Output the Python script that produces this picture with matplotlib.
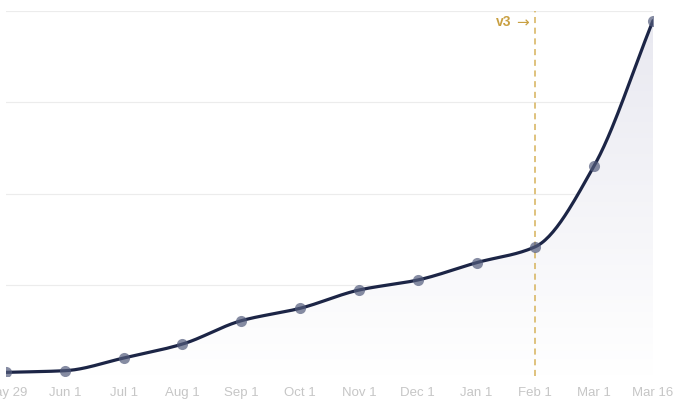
import numpy as np
import matplotlib.pyplot as plt
from matplotlib.colors import LinearSegmentedColormap
from matplotlib.patches import Polygon

# Data (no y labels shown, units arbitrary)
dates = ["May 29", "Jun 1", "Jul 1", "Aug 1", "Sep 1", "Oct 1", "Nov 1",
         "Dec 1", "Jan 1", "Feb 1", "Mar 1", "Mar 16"]
values = [40, 58, 197, 350, 606, 742, 942, 1052, 1242, 1417, 2305, 3894]
release_label = "v3"
release_idx = 9

plt.rcParams['font.family'] = ['Liberation Sans', 'DejaVu Sans']


def monotone_curve(x, y, n=30):
    # Fritsch-Carlson monotone cubic, just for drawing the smooth line
    x = np.asarray(x, float)
    y = np.asarray(y, float)
    h = np.diff(x)
    d = np.diff(y) / h
    m = np.zeros_like(y)
    m[0], m[-1] = d[0], d[-1]
    for i in range(1, len(y) - 1):
        if d[i - 1] * d[i] <= 0:
            m[i] = 0
        else:
            w1 = 2 * h[i] + h[i - 1]
            w2 = h[i] + 2 * h[i - 1]
            m[i] = (w1 + w2) / (w1 / d[i - 1] + w2 / d[i])
    xs, ys = [], []
    for i in range(len(x) - 1):
        t = np.linspace(0, 1, n, endpoint=False)
        h00 = 2 * t**3 - 3 * t**2 + 1
        h10 = t**3 - 2 * t**2 + t
        h01 = -2 * t**3 + 3 * t**2
        h11 = t**3 - t**2
        xs.append(x[i] + t * h[i])
        ys.append(h00 * y[i] + h10 * h[i] * m[i] + h01 * y[i + 1] + h11 * h[i] * m[i + 1])
    xs.append([x[-1]])
    ys.append([y[-1]])
    return np.concatenate(xs), np.concatenate(ys)


fig = plt.figure(figsize=(6.8, 4.09), dpi=100)
W, H = 680, 409
ax = fig.add_axes([6 / W, (H - 376) / H, (653 - 6) / W, (376 - 11) / H])

xi = np.arange(len(values))
cx, cy = monotone_curve(xi, values)

ax.set_xlim(0, len(values) - 1)
ax.set_ylim(0, 4000)

# gradient fill under the curve
cmap = LinearSegmentedColormap.from_list("fade", ["#ffffff", "#e8e8f0"])
grad = np.linspace(0, 1, 256).reshape(-1, 1)
img = ax.imshow(grad, cmap=cmap, aspect='auto', origin='lower',
                extent=[0, len(values) - 1, 0, 4000], zorder=1)
poly = Polygon(np.column_stack([np.r_[cx, cx[-1], cx[0]], np.r_[cy, 0, 0]]),
               closed=True, transform=ax.transData, facecolor='none', edgecolor='none')
ax.add_patch(poly)
img.set_clip_path(poly)

ax.plot(cx, cy, color="#1c2546", lw=2.3, zorder=4, solid_capstyle='round')
ax.plot(xi, values, 'o', ms=8, color="#535c7c", alpha=0.7, mec='none', zorder=5)

ax.axvline(release_idx, color="#d6b25a", lw=1.1, dashes=(4, 3), zorder=3)
ax.annotate("→", xy=(release_idx, 1), xycoords=('data', 'axes fraction'),
            xytext=(-6, -12), textcoords='offset pixels', ha='right', va='center',
            color="#c9a042", fontsize=11, family='DejaVu Sans')
ax.annotate(release_label, xy=(release_idx, 1), xycoords=('data', 'axes fraction'),
            xytext=(-24, -11), textcoords='offset pixels', ha='right', va='center',
            color="#c9a042", fontsize=10, fontweight='bold')

ax.set_yticks([0, 1000, 2000, 3000, 4000])
ax.set_yticklabels([])
ax.grid(axis='y', color="#ececec", lw=0.8, zorder=0)
ax.set_xticks(xi)
ax.set_xticklabels(dates)
ax.tick_params(length=0, labelsize=9.5, labelcolor="#c6c6c6", pad=8)
for s in ax.spines.values():
    s.set_visible(False)
ax.set_axisbelow(True)

fig.savefig("out.png", dpi=100)
